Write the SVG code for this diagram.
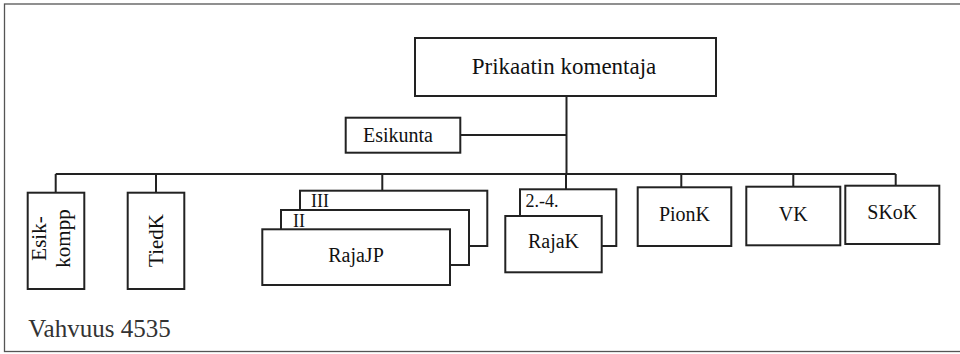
<svg xmlns="http://www.w3.org/2000/svg" width="960" height="354" viewBox="0 0 960 354">
<style>
.box{fill:#fff;stroke:#222;stroke-width:2}
.ln{fill:none;stroke:#222;stroke-width:2}
.t{font-family:'Liberation Serif','Times New Roman','DejaVu Serif',serif;fill:#111}
.c{text-anchor:middle}
</style>
<rect x="0" y="0" width="960" height="354" fill="#fff"/>
<rect x="4.5" y="4" width="980" height="347.5" fill="none" stroke="#555" stroke-width="1.3"/>
<g id="connectors">
<path class="ln" d="M566.5 96V174M460 135H566.5M55.7 174H895.7M55.7 174V193M156 174V193M382.3 174V191M566 174V189.5M681.3 174V187.5M793.3 174V187M895.7 174V186"/>
</g>
<g id="n-komentaja">
<rect class="box" x="415" y="38" width="301" height="58"/>
<text class="t c" x="564" y="74" font-size="23">Prikaatin komentaja</text>
</g>
<g id="n-esikunta">
<rect class="box" x="345.7" y="117.7" width="114.6" height="35"/>
<text class="t c" x="398" y="142" font-size="20">Esikunta</text>
</g>
<g id="n-esikkompp">
<rect class="box" x="27.7" y="192.7" width="56.6" height="96.3"/>
<text class="t c" transform="translate(46 238.5) rotate(-90)" font-size="21">Esik-</text>
<text class="t c" transform="translate(70 238.5) rotate(-90)" font-size="21">kompp</text>
</g>
<g id="n-tiedk">
<rect class="box" x="127.7" y="192.7" width="56.6" height="96.3"/>
<text class="t c" transform="translate(163 240.5) rotate(-90)" font-size="21">TiedK</text>
</g>
<g id="n-rajajp">
<rect class="box" x="300" y="190.7" width="187.3" height="55.3"/>
<text class="t" x="311" y="207" font-size="18">III</text>
<rect class="box" x="281" y="210" width="188" height="55"/>
<text class="t" x="293" y="227" font-size="18">II</text>
<rect class="box" x="262.3" y="229.3" width="187.7" height="55.7"/>
<text class="t c" x="356" y="262" font-size="20">RajaJP</text>
</g>
<g id="n-rajak">
<rect class="box" x="520" y="189.3" width="96.3" height="56.7"/>
<text class="t" x="525.5" y="207" font-size="18">2.-4.</text>
<rect class="box" x="505.3" y="216" width="96.4" height="56.3"/>
<text class="t c" x="553.5" y="248" font-size="20">RajaK</text>
</g>
<g id="n-pionk">
<rect class="box" x="637.7" y="187.3" width="93.6" height="58.7"/>
<text class="t c" x="684.5" y="221" font-size="20">PionK</text>
</g>
<g id="n-vk">
<rect class="box" x="746.3" y="186.7" width="94" height="58.6"/>
<text class="t c" x="793.3" y="220.5" font-size="20">VK</text>
</g>
<g id="n-skok">
<rect class="box" x="845.3" y="185.7" width="94" height="58.3"/>
<text class="t c" x="892.3" y="219" font-size="20">SKoK</text>
</g>
<text class="t" x="28.3" y="337" font-size="25" style="fill:#333">Vahvuus 4535</text>
</svg>
